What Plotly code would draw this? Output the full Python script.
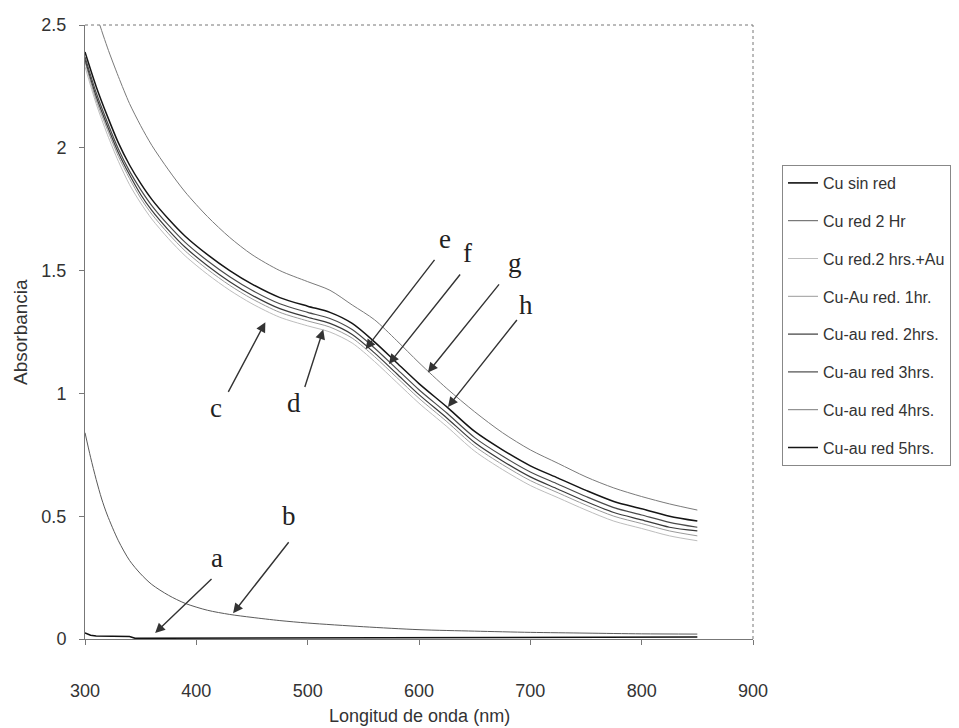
import plotly.graph_objects as go

# Wavelength grid (nm) shared by the Cu-Au spectra
wl = [300, 310, 320, 330, 340, 350, 360, 375, 390, 410, 430, 450, 475, 500,
      520, 540, 560, 580, 600, 625, 650, 675, 700, 725, 750, 775, 800, 825, 850]

cu_red2h_au = [2.33, 2.18, 2.055, 1.945, 1.85, 1.775, 1.71, 1.63, 1.56, 1.485, 1.42, 1.365, 1.31, 1.275,
               1.25, 1.205, 1.13, 1.045, 0.96, 0.865, 0.765, 0.69, 0.625, 0.575, 0.525, 0.48, 0.45, 0.42, 0.40]
cuau_1h = [2.35, 2.195, 2.075, 1.965, 1.875, 1.795, 1.73, 1.65, 1.58, 1.505, 1.44, 1.385, 1.33, 1.295,
           1.27, 1.225, 1.15, 1.065, 0.98, 0.885, 0.785, 0.71, 0.645, 0.595, 0.545, 0.50, 0.47, 0.44, 0.42]
cuau_2h = [2.36, 2.21, 2.09, 1.98, 1.89, 1.81, 1.745, 1.665, 1.595, 1.52, 1.455, 1.40, 1.345, 1.31,
           1.285, 1.24, 1.165, 1.08, 0.995, 0.90, 0.80, 0.725, 0.66, 0.61, 0.56, 0.515, 0.485, 0.455, 0.44]
cuau_3h = [2.37, 2.225, 2.105, 1.995, 1.905, 1.83, 1.765, 1.685, 1.615, 1.54, 1.475, 1.42, 1.365, 1.33,
           1.305, 1.26, 1.185, 1.10, 1.015, 0.92, 0.82, 0.745, 0.68, 0.63, 0.58, 0.535, 0.505, 0.475, 0.455]
cuau_4h = [2.75, 2.55, 2.41, 2.29, 2.18, 2.09, 2.01, 1.91, 1.82, 1.72, 1.635, 1.565, 1.50, 1.455,
           1.42, 1.36, 1.30, 1.215, 1.125, 1.02, 0.925, 0.84, 0.77, 0.715, 0.66, 0.615, 0.58, 0.55, 0.525]
cuau_5h = [2.39, 2.25, 2.13, 2.02, 1.93, 1.855, 1.79, 1.71, 1.64, 1.565, 1.50, 1.445, 1.39, 1.355,
           1.33, 1.285, 1.21, 1.125, 1.04, 0.945, 0.845, 0.77, 0.705, 0.655, 0.605, 0.56, 0.53, 0.50, 0.48]

# Unreduced copper and copper reduced 2 h
wl_a = [300, 305, 310, 340, 345, 600, 850]
cu_sin_red = [0.025, 0.015, 0.012, 0.010, 0.003, 0.005, 0.008]

wl_b = [300, 305, 310, 315, 320, 330, 340, 350, 360, 375, 390, 410, 430, 450, 475, 500,
        550, 600, 650, 700, 750, 800, 850]
cu_red_2h = [0.84, 0.74, 0.65, 0.57, 0.505, 0.40, 0.32, 0.265, 0.222, 0.178, 0.145, 0.117, 0.10, 0.088,
             0.075, 0.065, 0.05, 0.038, 0.032, 0.027, 0.024, 0.021, 0.02]

x_ticks = [300, 400, 500, 600, 700, 800, 900]
y_ticks = [0, 0.5, 1, 1.5, 2, 2.5]
y_ticklabels = ["0", "0.5", "1", "1.5", "2", "2.5"]

series = [
    ("Cu sin red", wl_a, cu_sin_red, "#111111", 1.6, "linear"),
    ("Cu red 2 Hr", wl_b, cu_red_2h, "#5a5a5a", 1.0, "spline"),
    ("Cu red.2 hrs.+Au", wl, cu_red2h_au, "#bdbdbd", 1.0, "spline"),
    ("Cu-Au red. 1hr.", wl, cuau_1h, "#9a9a9a", 1.0, "spline"),
    ("Cu-au red. 2hrs.", wl, cuau_2h, "#3a3a3a", 1.2, "spline"),
    ("Cu-au red 3hrs.", wl, cuau_3h, "#4a4a4a", 1.2, "spline"),
    ("Cu-au red 4hrs.", wl, cuau_4h, "#7a7a7a", 1.0, "spline"),
    ("Cu-au red 5hrs.", wl, cuau_5h, "#151515", 1.5, "spline"),
]

# Curve labels: (letter, text position, arrow tail, arrow tip) in data units
labels = [
    ("a", (419, 0.33), (415, 0.25), (363, 0.024)),
    ("b", (483, 0.50), (484, 0.40), (433, 0.105)),
    ("c", (418, 0.94), (428, 1.00), (462, 1.29)),
    ("d", (488, 0.96), (497, 1.02), (514, 1.26)),
    ("e", (623, 1.63), (615, 1.55), (552, 1.18)),
    ("f", (644, 1.57), (638, 1.49), (573, 1.12)),
    ("g", (686, 1.53), (673, 1.45), (608, 1.085)),
    ("h", (696, 1.36), (689, 1.305), (626, 0.945)),
]

fig = go.Figure()
for i, (name, x, y, color, width, shape) in enumerate(series):
    fig.add_trace(go.Scatter(
        x=x, y=y, mode="lines", name=name, legendgroup=f"g{i}",
        line=dict(color=color, width=width, shape=shape, smoothing=0.8),
    ))

for letter, (tx, ty), (ax, ay), (hx, hy) in labels:
    fig.add_annotation(x=hx, y=hy, ax=ax, ay=ay, xref="x", yref="y", axref="x", ayref="y",
                       text="", showarrow=True, arrowhead=2, arrowsize=1.4, arrowwidth=1.4,
                       arrowcolor="#333333", standoff=0)
    fig.add_annotation(x=tx, y=ty, xref="x", yref="y", text=letter, showarrow=False,
                       font=dict(family="Liberation Serif, Times New Roman, serif", size=27, color="#222222"))

# dotted frame on top and right of the plot area
fig.add_shape(type="line", xref="paper", yref="paper", x0=0, x1=1, y0=1, y1=1,
              line=dict(color="#777777", width=1, dash="dot"))
fig.add_shape(type="line", xref="paper", yref="paper", x0=1, x1=1, y0=0, y1=1,
              line=dict(color="#777777", width=1, dash="dot"))

# plot area size in pixels, used to place the axis titles
plot_h = 728 - 25 - 89
plot_w = 959 - 85 - 206

title_font = dict(family="Liberation Sans, Arial, sans-serif", size=18, color="#333333")
fig.add_annotation(x=0.5, y=-(716 - 639) / plot_h, xref="paper", yref="paper",
                   text="Longitud de onda (nm)", showarrow=False, font=title_font, yanchor="middle")
fig.add_annotation(x=-(85 - 20) / plot_w, y=0.5, xref="paper", yref="paper", text="Absorbancia",
                   textangle=-90, showarrow=False, font=dict(title_font, size=19), xanchor="center")

axis_font = dict(family="Liberation Sans, Arial, sans-serif", size=18, color="#333333")
fig.update_layout(
    width=959, height=728,
    margin=dict(l=85, r=206, t=25, b=89),
    paper_bgcolor="white", plot_bgcolor="white",
    font=axis_font,
    xaxis=dict(range=[300, 900], tickvals=x_ticks, showgrid=False, zeroline=False,
               showline=True, linecolor="#777777", linewidth=1, automargin=False,
               ticks="outside", ticklen=5, tickcolor="#777777", ticklabelstandoff=30,
               tickfont=axis_font),
    yaxis=dict(range=[0, 2.5], tickvals=y_ticks, ticktext=y_ticklabels, showgrid=False, zeroline=False,
               showline=True, linecolor="#777777", linewidth=1, automargin=False,
               ticks="outside", ticklen=5, tickcolor="#777777", ticklabelstandoff=9,
               tickfont=axis_font),
    legend=dict(x=782 / 959, xref="container", y=1 - 165 / 728, yref="container",
                xanchor="left", yanchor="top",
                bordercolor="#888888", borderwidth=1, bgcolor="white",
                font=dict(family="Liberation Sans Narrow, Arial Narrow, Liberation Sans, Arial, sans-serif",
                          size=16, color="#333333"),
                tracegroupgap=14, itemwidth=30),
    showlegend=True,
)

fig.write_html("out.html")
